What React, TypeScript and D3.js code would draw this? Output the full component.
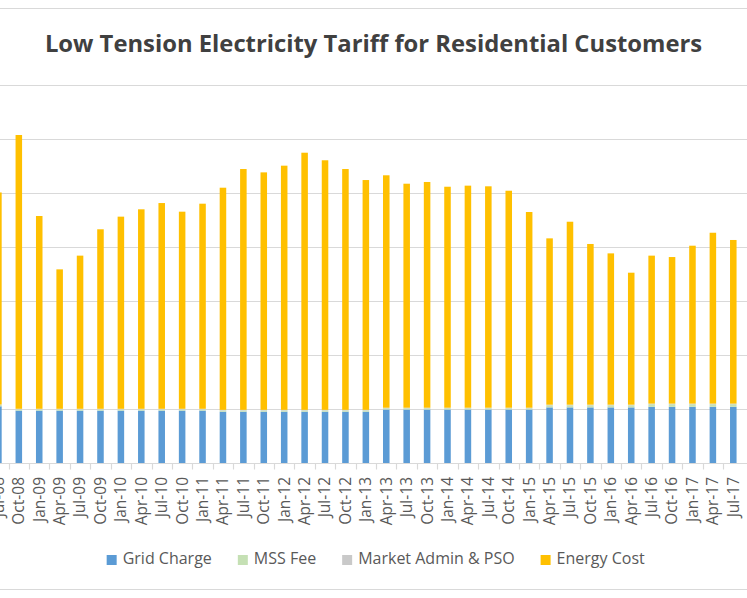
import { useEffect, useRef } from 'react';
import * as d3 from 'd3';

// quarterly tariff components, cents/kWh
const quarters = [
  'Jul-08', 'Oct-08', 'Jan-09', 'Apr-09', 'Jul-09', 'Oct-09', 'Jan-10', 'Apr-10', 'Jul-10', 'Oct-10',
  'Jan-11', 'Apr-11', 'Jul-11', 'Oct-11', 'Jan-12', 'Apr-12', 'Jul-12', 'Oct-12', 'Jan-13', 'Apr-13',
  'Jul-13', 'Oct-13', 'Jan-14', 'Apr-14', 'Jul-14', 'Oct-14', 'Jan-15', 'Apr-15', 'Jul-15', 'Oct-15',
  'Jan-16', 'Apr-16', 'Jul-16', 'Oct-16', 'Jan-17', 'Apr-17', 'Jul-17',
];

const gridCharge = [
  5.25, 4.85, 4.85, 4.85, 4.85, 4.85, 4.85, 4.85, 4.85, 4.85,
  4.85, 4.75, 4.75, 4.75, 4.75, 4.75, 4.75, 4.75, 4.75, 4.95,
  4.95, 4.95, 4.95, 4.95, 4.95, 4.95, 4.95, 5.15, 5.15, 5.15,
  5.15, 5.15, 5.2, 5.2, 5.2, 5.2, 5.2,
];

const mssFee = [
  0.12, 0.12, 0.12, 0.12, 0.12, 0.12, 0.12, 0.12, 0.12, 0.12,
  0.12, 0.12, 0.12, 0.12, 0.12, 0.12, 0.12, 0.12, 0.12, 0.12,
  0.12, 0.12, 0.12, 0.12, 0.12, 0.12, 0.12, 0.2, 0.2, 0.2,
  0.2, 0.2, 0.25, 0.25, 0.25, 0.25, 0.25,
];

const marketAdmin = [
  0.05, 0.05, 0.05, 0.05, 0.05, 0.05, 0.05, 0.05, 0.05, 0.05,
  0.05, 0.05, 0.05, 0.05, 0.05, 0.05, 0.05, 0.05, 0.05, 0.05,
  0.05, 0.05, 0.05, 0.05, 0.05, 0.05, 0.05, 0.05, 0.05, 0.05,
  0.05, 0.05, 0.05, 0.05, 0.05, 0.05, 0.05,
];

const energyCost = [
  19.63, 25.35, 17.85, 12.91, 14.18, 16.62, 17.79, 18.47, 19.05, 18.25,
  18.99, 20.57, 22.3, 21.99, 22.61, 23.81, 23.11, 22.3, 21.28, 21.52,
  20.74, 20.9, 20.46, 20.56, 20.5, 20.09, 18.12, 15.4, 16.94, 14.88,
  14.01, 12.22, 13.7, 13.57, 14.62, 15.82, 15.15,
];

const seriesNames = ['Grid Charge', 'MSS Fee', 'Market Admin & PSO', 'Energy Cost'];
const seriesColors = ['#5B9BD5', '#C5E0B4', '#C9C9C9', '#FFC000'];
const yTicks = [0, 5, 10, 15, 20, 25, 30, 35];

const W = 747;
const H = 598;
const FONT = '"Open Sans", "Noto Sans", sans-serif';

export default function App() {
  const svgRef = useRef<SVGSVGElement>(null);

  useEffect(() => {
    if (!svgRef.current) return;
    const svg = d3.select(svgRef.current);
    svg.selectAll('*').remove();

    const rows = quarters.map((q, i) => ({
      label: q,
      'Grid Charge': gridCharge[i],
      'MSS Fee': mssFee[i],
      'Market Admin & PSO': marketAdmin[i],
      'Energy Cost': energyCost[i],
    }));

    const x = d3.scaleBand<string>()
      .domain(quarters)
      .range([-11.8, 743.5])
      .paddingInner(0.68)
      .paddingOuter(0.34);

    const y = d3.scaleLinear().domain([0, 35]).range([463, 85]);

    const stacked = d3.stack<any>().keys(seriesNames)(rows);

    // frame lines (chart is cropped on the sides)
    svg.append('line').attr('x1', 0).attr('x2', W).attr('y1', 8.5).attr('y2', 8.5)
      .attr('stroke', '#D9D9D9').attr('stroke-width', 1.2);
    svg.append('line').attr('x1', 0).attr('x2', W).attr('y1', 589.5).attr('y2', 589.5)
      .attr('stroke', '#D9D9D9').attr('stroke-width', 1.2);

    // gridlines
    svg.append('g')
      .selectAll('line')
      .data(yTicks.slice(1))
      .join('line')
      .attr('x1', 0)
      .attr('x2', W)
      .attr('y1', (d) => Math.round(y(d)) + 0.5)
      .attr('y2', (d) => Math.round(y(d)) + 0.5)
      .attr('stroke', '#D9D9D9')
      .attr('stroke-width', 1.2);

    // bars
    const g = svg.append('g');
    stacked.forEach((layer, si) => {
      g.append('g')
        .attr('fill', seriesColors[si])
        .selectAll('rect')
        .data(layer)
        .join('rect')
        .attr('x', (d: any) => x(d.data.label) ?? 0)
        .attr('width', x.bandwidth())
        .attr('y', (d: any) => y(d[1]))
        .attr('height', (d: any) => Math.max(0, y(d[0]) - y(d[1])));
    });

    // x axis: baseline + tick marks between categories
    const axis = svg.append('g').attr('transform', `translate(0, ${Math.round(y(0)) + 0.5})`);
    axis.append('line').attr('x1', 0).attr('x2', W).attr('stroke', '#D9D9D9').attr('stroke-width', 1.2);
    const step = x.step();
    axis.append('g')
      .selectAll('line')
      .data(quarters)
      .join('line')
      .attr('x1', (d) => Math.round((x(d) ?? 0) - step * 0.34) + 0.5)
      .attr('x2', (d) => Math.round((x(d) ?? 0) - step * 0.34) + 0.5)
      .attr('y1', 0)
      .attr('y2', 6)
      .attr('stroke', '#D9D9D9')
      .attr('stroke-width', 1.2);

    svg.append('g')
      .selectAll('text')
      .data(quarters)
      .join('text')
      .attr('transform', (d) => `translate(${(x(d) ?? 0) + x.bandwidth() / 2}, 477) rotate(-90)`)
      .attr('text-anchor', 'end')
      .attr('dy', '0.35em')
      .attr('font-family', FONT)
      .attr('font-size', 15.5)
      .attr('fill', '#595959')
      .text((d) => d);

    // title
    svg.append('text')
      .attr('x', 373.5)
      .attr('y', 52)
      .attr('text-anchor', 'middle')
      .attr('font-family', FONT)
      .attr('font-weight', 'bold')
      .attr('font-size', 23.8)
      .attr('fill', '#404040')
      .text('Low Tension Electricity Tariff for Residential Customers');

    // legend
    const legend = svg.append('g');
    let lx = 0;
    seriesNames.forEach((name, i) => {
      const item = legend.append('g').attr('transform', `translate(${lx}, 0)`);
      item.append('rect').attr('x', 0).attr('y', 555).attr('width', 10).attr('height', 10)
        .attr('fill', seriesColors[i]);
      const t = item.append('text')
        .attr('x', 16)
        .attr('y', 564)
        .attr('font-family', FONT)
        .attr('font-size', 16)
        .attr('fill', '#595959')
        .text(name);
      const len = (t.node() as SVGTextElement).getComputedTextLength();
      lx += 16 + len + 26;
    });
    const total = lx - 26;
    legend.attr('transform', `translate(${375.7 - total / 2}, 0)`);
  }, []);

  return (
    <svg
      ref={svgRef}
      width={W}
      height={H}
      viewBox={`0 0 ${W} ${H}`}
      style={{ position: 'absolute', left: 0, top: 0, background: '#fff' }}
    />
  );
}
